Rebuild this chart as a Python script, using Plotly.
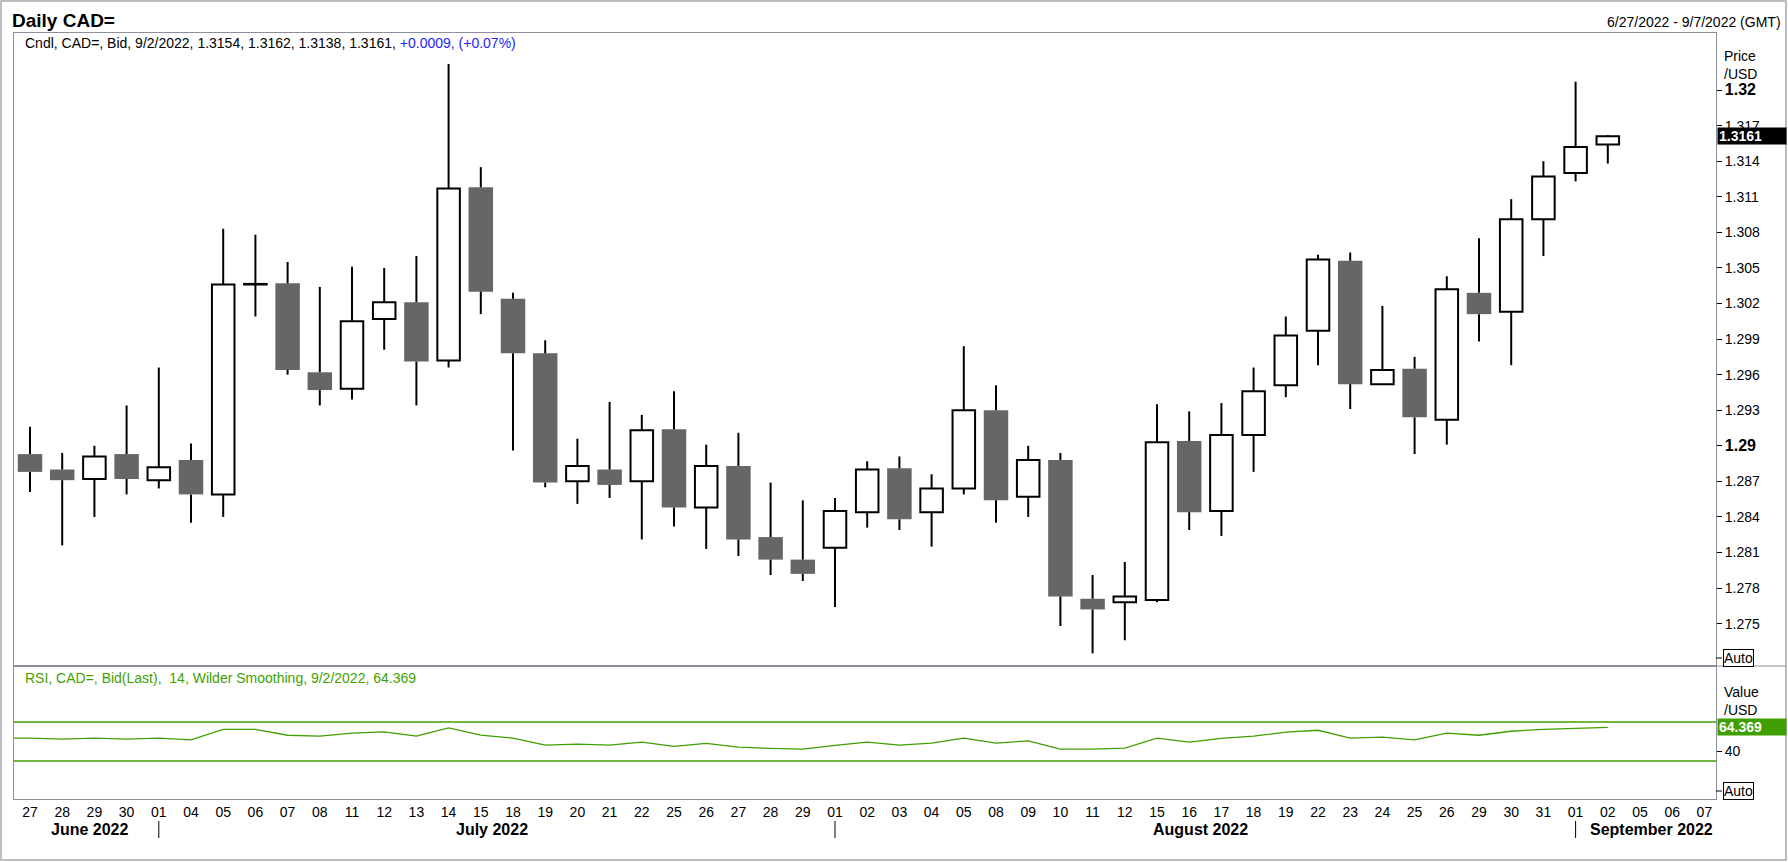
import datetime as dt
import plotly.graph_objects as go

# trading-day slots shown on the x axis (last three have no candle yet)
dates = [
    "2022-06-27", "2022-06-28", "2022-06-29", "2022-06-30",
    "2022-07-01", "2022-07-04", "2022-07-05", "2022-07-06", "2022-07-07", "2022-07-08",
    "2022-07-11", "2022-07-12", "2022-07-13", "2022-07-14", "2022-07-15", "2022-07-18",
    "2022-07-19", "2022-07-20", "2022-07-21", "2022-07-22", "2022-07-25", "2022-07-26",
    "2022-07-27", "2022-07-28", "2022-07-29",
    "2022-08-01", "2022-08-02", "2022-08-03", "2022-08-04", "2022-08-05", "2022-08-08",
    "2022-08-09", "2022-08-10", "2022-08-11", "2022-08-12", "2022-08-15", "2022-08-16",
    "2022-08-17", "2022-08-18", "2022-08-19", "2022-08-22", "2022-08-23", "2022-08-24",
    "2022-08-25", "2022-08-26", "2022-08-29", "2022-08-30", "2022-08-31",
    "2022-09-01", "2022-09-02", "2022-09-05", "2022-09-06", "2022-09-07",
]

open_ = [1.2893, 1.2880, 1.2872, 1.2893, 1.2871, 1.2888, 1.2859, 1.3036, 1.3037, 1.2962,
         1.2948, 1.3007, 1.3021, 1.2972, 1.3118, 1.3024, 1.2978, 1.2870, 1.2880, 1.2870,
         1.2914, 1.2848, 1.2883, 1.2823, 1.2804, 1.2814, 1.2844, 1.2881, 1.2844, 1.2864,
         1.2930, 1.2857, 1.2888, 1.2771, 1.2768, 1.2770, 1.2904, 1.2845, 1.2909, 1.2951,
         1.2997, 1.3056, 1.2952, 1.2965, 1.2922, 1.3029, 1.3013, 1.3091, 1.3130, 1.3154]
high = [1.2916, 1.2894, 1.2900, 1.2934, 1.2966, 1.2902, 1.3083, 1.3078, 1.3055, 1.3034,
        1.3051, 1.3050, 1.3060, 1.3222, 1.3135, 1.3029, 1.2989, 1.2906, 1.2937, 1.2926,
        1.2946, 1.2901, 1.2911, 1.2869, 1.2854, 1.2856, 1.2887, 1.2891, 1.2876, 1.2984,
        1.2951, 1.2900, 1.2894, 1.2791, 1.2802, 1.2935, 1.2929, 1.2936, 1.2966, 1.3009,
        1.3061, 1.3063, 1.3018, 1.2975, 1.3043, 1.3075, 1.3108, 1.3140, 1.3207, 1.3162]
low = [1.2861, 1.2816, 1.2840, 1.2859, 1.2864, 1.2835, 1.2840, 1.3009, 1.2960, 1.2934,
       1.2939, 1.2981, 1.2934, 1.2966, 1.3011, 1.2896, 1.2865, 1.2851, 1.2856, 1.2821,
       1.2832, 1.2813, 1.2807, 1.2791, 1.2786, 1.2764, 1.2831, 1.2829, 1.2815, 1.2859,
       1.2835, 1.2840, 1.2748, 1.2725, 1.2736, 1.2768, 1.2829, 1.2824, 1.2878, 1.2941,
       1.2968, 1.2931, 1.2952, 1.2893, 1.2901, 1.2988, 1.2968, 1.3060, 1.3123, 1.3138]
close = [1.2878, 1.2871, 1.2891, 1.2872, 1.2882, 1.2859, 1.3036, 1.30365, 1.2964, 1.2947,
         1.3005, 1.3021, 1.2971, 1.3117, 1.3030, 1.2978, 1.2869, 1.2883, 1.2867, 1.2913,
         1.2848, 1.2883, 1.2821, 1.2804, 1.2792, 1.2845, 1.2880, 1.2838, 1.2864, 1.2930,
         1.2854, 1.2888, 1.2773, 1.2762, 1.2773, 1.2903, 1.2844, 1.2909, 1.2946, 1.2993,
         1.3057, 1.2952, 1.2964, 1.2924, 1.3032, 1.3011, 1.3091, 1.3127, 1.3152, 1.3161]

rsi_prev = 53.4  # 6/24/2022, runs in from the left edge
rsi = [53.4, 52.4, 53.4, 52.4, 53.4, 51.7, 62.5, 62.5, 56.4, 55.4,
       58.5, 59.8, 55.4, 63.9, 56.4, 53.4, 46.3, 47.3, 46.3, 49.3,
       44.9, 48.0, 44.2, 42.9, 42.2, 45.9, 49.3, 46.3, 48.3, 53.4,
       48.3, 50.7, 42.2, 42.2, 43.2, 53.4, 49.3, 53.1, 55.4, 59.5,
       61.5, 53.4, 54.4, 51.7, 58.5, 56.4, 60.5, 62.5, 63.6, 64.369]

price_ticks = [1.275, 1.278, 1.281, 1.284, 1.287, 1.29, 1.293, 1.296, 1.299,
               1.302, 1.305, 1.308, 1.311, 1.314, 1.317, 1.32]
rsi_ticks = [40]
rsi_bands = [70, 30]

FONT = "Liberation Sans, Arial, sans-serif"
GREEN = "#3f9f00"
GRAY = "#666666"
FRAME = "#8e8e9c"

W, H = 1788, 862
PL, PR, PT, PB = 14, 1716, 33, 799


def fx(px):
    return (px - PL) / (PR - PL)


def fy(py):
    return (PB - py) / (PB - PT)


idx = list(range(len(close)))
up = [i for i in idx if close[i] >= open_[i]]
dn = [i for i in idx if close[i] < open_[i]]

# wicks split at the body so they never run through the white bodies
wx, wy = [], []
for i in idx:
    top, bot = max(open_[i], close[i]), min(open_[i], close[i])
    wx += [i, i, None, i, i, None]
    wy += [bot, low[i], None, top, high[i], None]

fig = go.Figure()
fig.add_trace(go.Bar(
    x=up, base=[open_[i] for i in up], y=[close[i] - open_[i] for i in up],
    width=0.7, marker=dict(color="white", line=dict(color="black", width=2)),
    xaxis="x", yaxis="y", hoverinfo="skip"))
fig.add_trace(go.Bar(
    x=dn, base=[close[i] for i in dn], y=[open_[i] - close[i] for i in dn],
    width=0.76, marker=dict(color=GRAY, line=dict(width=0)),
    xaxis="x", yaxis="y", hoverinfo="skip"))
fig.add_trace(go.Scatter(
    x=wx, y=wy, mode="lines", line=dict(color="black", width=2),
    xaxis="x", yaxis="y", hoverinfo="skip"))
fig.add_trace(go.Scatter(
    x=[-1] + idx, y=[rsi_prev] + rsi, mode="lines",
    line=dict(color=GREEN, width=1.3), xaxis="x2", yaxis="y2", hoverinfo="skip"))

# x labels and month captions from the dates
days = [dt.date.fromisoformat(d) for d in dates]
day_labels = [d.strftime("%d") for d in days]
months = []
for i, d in enumerate(days):
    key = d.strftime("%B %Y")
    if not months or months[-1][0] != key:
        months.append([key, []])
    months[-1][1].append(i)

xr = [(PL - 30) / 32.2, (PR - 30) / 32.2]
rsi_dom = (PB - 666) / (PB - PT)


def fmt(v):
    s = f"{v:.3f}".rstrip("0")
    if abs(v * 100 - round(v * 100)) < 1e-9:
        return f"<span style='font-size:16px'><b>{s}</b></span>"
    return s


shapes = []
annotations = []
for b in rsi_bands:
    shapes.append(dict(type="line", xref="x2 domain", x0=0, x1=1, yref="y2", y0=b, y1=b,
                       line=dict(color=GREEN, width=1.5)))
for name, members in months:
    annotations.append(dict(text=f"<b>{name}</b>", xref="x2", x=sum(members) / len(members) + 0.35,
                            yref="paper", y=fy(830), yanchor="middle", showarrow=False,
                            font=dict(family=FONT, size=16, color="black")))
    if members[0] > 0:
        shapes.append(dict(type="line", xref="x2", x0=members[0], x1=members[0],
                           yref="paper", y0=fy(821), y1=fy(838), line=dict(color="black", width=1)))

# outer frame and right-hand panel divider
shapes.append(dict(type="rect", xref="paper", yref="paper", x0=fx(1), x1=fx(1786),
                   y0=fy(860), y1=fy(1), line=dict(color="#a8a8b0", width=1.5)))
shapes.append(dict(type="line", xref="paper", yref="paper", x0=1, x1=fx(1786),
                   y0=fy(666), y1=fy(666), line=dict(color=FRAME, width=1)))
for py in (658, 791):
    shapes.append(dict(type="line", xref="paper", yref="paper", x0=1, x1=fx(1722),
                       y0=fy(py), y1=fy(py), line=dict(color="black", width=1)))


def label(text, px, py, size=14, color="black", anchor="left", **kw):
    annotations.append(dict(text=text, xref="paper", yref="paper", x=fx(px), y=fy(py),
                            xanchor=anchor, yanchor="middle", showarrow=False,
                            font=dict(family=FONT, size=size, color=color), **kw))


label("<b>Daily CAD=</b>", 10, 20, size=19)
label("6/27/2022 - 9/7/2022 (GMT)", 1783, 22, anchor="right")
label(f"Cndl, CAD=, Bid, 9/2/2022, {open_[-1]:.4f}, {high[-1]:.4f}, {low[-1]:.4f}, {close[-1]:.4f}, "
      f"<span style='color:#2323ff'>{close[-1] - close[-2]:+.4f}, "
      f"({(close[-1] / close[-2] - 1) * 100:+.2f}%)</span>", 23, 43)
label(f"RSI, CAD=, Bid(Last),  14, Wilder Smoothing, 9/2/2022, {rsi[-1]:.3f}", 23, 678, color=GREEN)
label("Price", 1722, 56)
label("/USD", 1722, 74)
label("Value", 1722, 692)
label("/USD", 1722, 710)
label("Auto", 1723, 658, bordercolor="black", borderwidth=1, borderpad=0, bgcolor="white")
label("Auto", 1723, 791, bordercolor="black", borderwidth=1, borderpad=0, bgcolor="white")
annotations.append(dict(text=f"<b>{close[-1]:.4f}</b>", xref="paper", x=1.0004, xanchor="left",
                        yref="y", y=close[-1], yanchor="middle", showarrow=False, align="left",
                        width=66, height=14, bgcolor="black", borderpad=1,
                        font=dict(family=FONT, size=14, color="white")))
annotations.append(dict(text=f"<b>{rsi[-1]:.3f}</b>", xref="paper", x=1.0004, xanchor="left",
                        yref="y2", y=rsi[-1], yanchor="middle", showarrow=False, align="left",
                        width=66, height=14, bgcolor=GREEN, borderpad=1,
                        font=dict(family=FONT, size=14, color="white")))

axis_common = dict(showgrid=False, zeroline=False, showline=True, mirror=True,
                   linecolor=FRAME, linewidth=1)
fig.update_layout(
    width=W, height=H,
    margin=dict(l=PL, r=W - PR, t=PT, b=H - PB, autoexpand=False),
    paper_bgcolor="white", plot_bgcolor="white",
    showlegend=False, barmode="overlay",
    font=dict(family=FONT, size=14, color="black"),
    xaxis=dict(domain=[0, 1], range=xr, anchor="y", showticklabels=False, **axis_common),
    yaxis=dict(domain=[rsi_dom, 1], range=[1.27143, 1.32481], side="right", anchor="x",
               tickvals=price_ticks, ticktext=[fmt(v) for v in price_ticks],
               ticks="outside", ticklen=5, tickcolor="black",
               tickfont=dict(family=FONT, size=14, color="black"), **axis_common),
    xaxis2=dict(domain=[0, 1], range=xr, anchor="y2", tickvals=list(range(len(dates))),
                ticktext=day_labels, ticks="",
                tickfont=dict(family=FONT, size=14, color="black"), **axis_common),
    yaxis2=dict(domain=[0, rsi_dom], range=[-9, 127.4], side="right", anchor="x2",
                tickvals=rsi_ticks, ticks="outside", ticklen=5, tickcolor="black",
                tickfont=dict(family=FONT, size=14, color="black"), **axis_common),
    shapes=shapes, annotations=annotations,
)

# the page body has a default 8px margin; drop it so the figure sits at the window corner
fig.write_html("out.html", config={"displayModeBar": False},
               post_script="document.body.style.margin = '0';")
